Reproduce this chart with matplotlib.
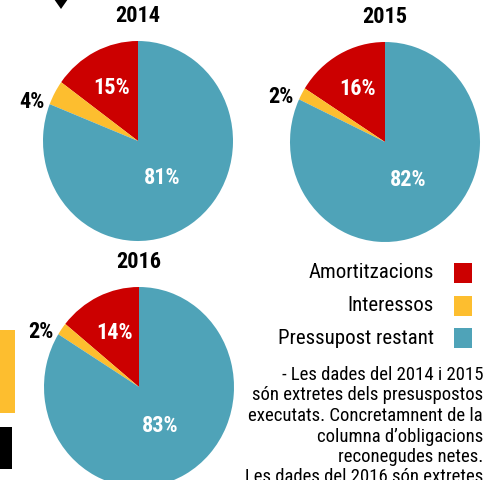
import numpy as np
import matplotlib
matplotlib.use("Agg")
import matplotlib.pyplot as plt
from matplotlib import font_manager
from matplotlib.patches import Rectangle, Polygon

years = ["2014", "2015", "2016"]
categories = ["Amortitzacions", "Interessos", "Pressupost restant"]
amortitzacions = [15, 16, 14]
interessos = [4, 2, 2]
restant = [81, 82, 83]
colors = ["#cc0000", "#fdbe2f", "#4fa3b8"]
note_lines = [
    "- Les dades del 2014 i 2015",
    "són extretes dels presuspostos",
    "executats. Concretamnent de la",
    "columna d\u2019obligacions",
    "reconegudes netes.",
    "Les dades del 2016 són extretes",
]

W, H = 484, 480

names = {f.name for f in font_manager.fontManager.ttflist}
prefs = ["Roboto Condensed", "PT Sans Narrow", "Archivo Narrow",
         "Fira Sans Condensed", "IBM Plex Sans Condensed", "Liberation Sans Narrow"]
fam = next((p for p in prefs if p in names), "DejaVu Sans")
plt.rcParams["font.family"] = [fam, "DejaVu Sans"]

fig = plt.figure(figsize=(W / 100, H / 100), dpi=100)


def fx(x):
    return x / W


def fy(y):
    return 1 - y / H


def draw_pie(cx, cy, year, vals):
    # slightly taller than wide, like the source image
    rx, ry = 95, 100
    ax = fig.add_axes([fx(cx - rx), fy(cy + ry), 2 * rx / W, 2 * ry / H])
    wedges, _ = ax.pie(vals, colors=colors, startangle=90, counterclock=True,
                       radius=1, wedgeprops=dict(linewidth=0))
    ax.set_aspect("auto")
    ax.set_xlim(-1, 1)
    ax.set_ylim(-1, 1)
    ax.axis("off")
    for i, w in enumerate(wedges):
        pct = f"{vals[i]}%"
        if i == 1:
            a = np.deg2rad(w.theta2)
            ax.text(1.06 * np.cos(a), 1.05 * np.sin(a), pct, ha="right", va="center",
                    fontsize=16, fontweight="bold", color="black", clip_on=False)
        else:
            a = np.deg2rad((w.theta1 + w.theta2) / 2)
            r = 0.6 if i == 0 else 0.45
            ax.text(r * np.cos(a), r * np.sin(a), pct, ha="center", va="center",
                    fontsize=16, fontweight="bold", color="white")
    fig.text(fx(cx), fy(cy - 125), year, ha="center", va="center",
             fontsize=16, fontweight="bold", color="black")


centers = [(138, 141), (385, 142), (139, 387)]
for k, year in enumerate(years):
    draw_pie(centers[k][0], centers[k][1], year,
             [amortitzacions[k], interessos[k], restant[k]])

# legend
for j, cat in enumerate(categories):
    y = 273 + j * 32.5
    fig.text(fx(434), fy(y), cat, ha="right", va="center", fontsize=15, color="black")
    fig.patches.append(Rectangle((fx(454), fy(y + 10)), 18 / W, 20 / H,
                                 transform=fig.transFigure, color=colors[j], lw=0))

# note
for j, line in enumerate(note_lines):
    fig.text(fx(483), fy(375 + j * 20.5), line, ha="right", va="center",
             fontsize=13.5, color="black")

# cropped decorations from the original page
fig.patches.append(Polygon([(fx(54), fy(-1)), (fx(68), fy(-1)), (fx(61), fy(9))],
                           closed=True, transform=fig.transFigure, color="black", lw=0))
fig.patches.append(Rectangle((fx(0), fy(413)), 15 / W, 83 / H,
                             transform=fig.transFigure, color=colors[1], lw=0))
fig.patches.append(Rectangle((fx(0), fy(469)), 12 / W, 42 / H,
                             transform=fig.transFigure, color="black", lw=0))

fig.savefig("out.png", dpi=100)
